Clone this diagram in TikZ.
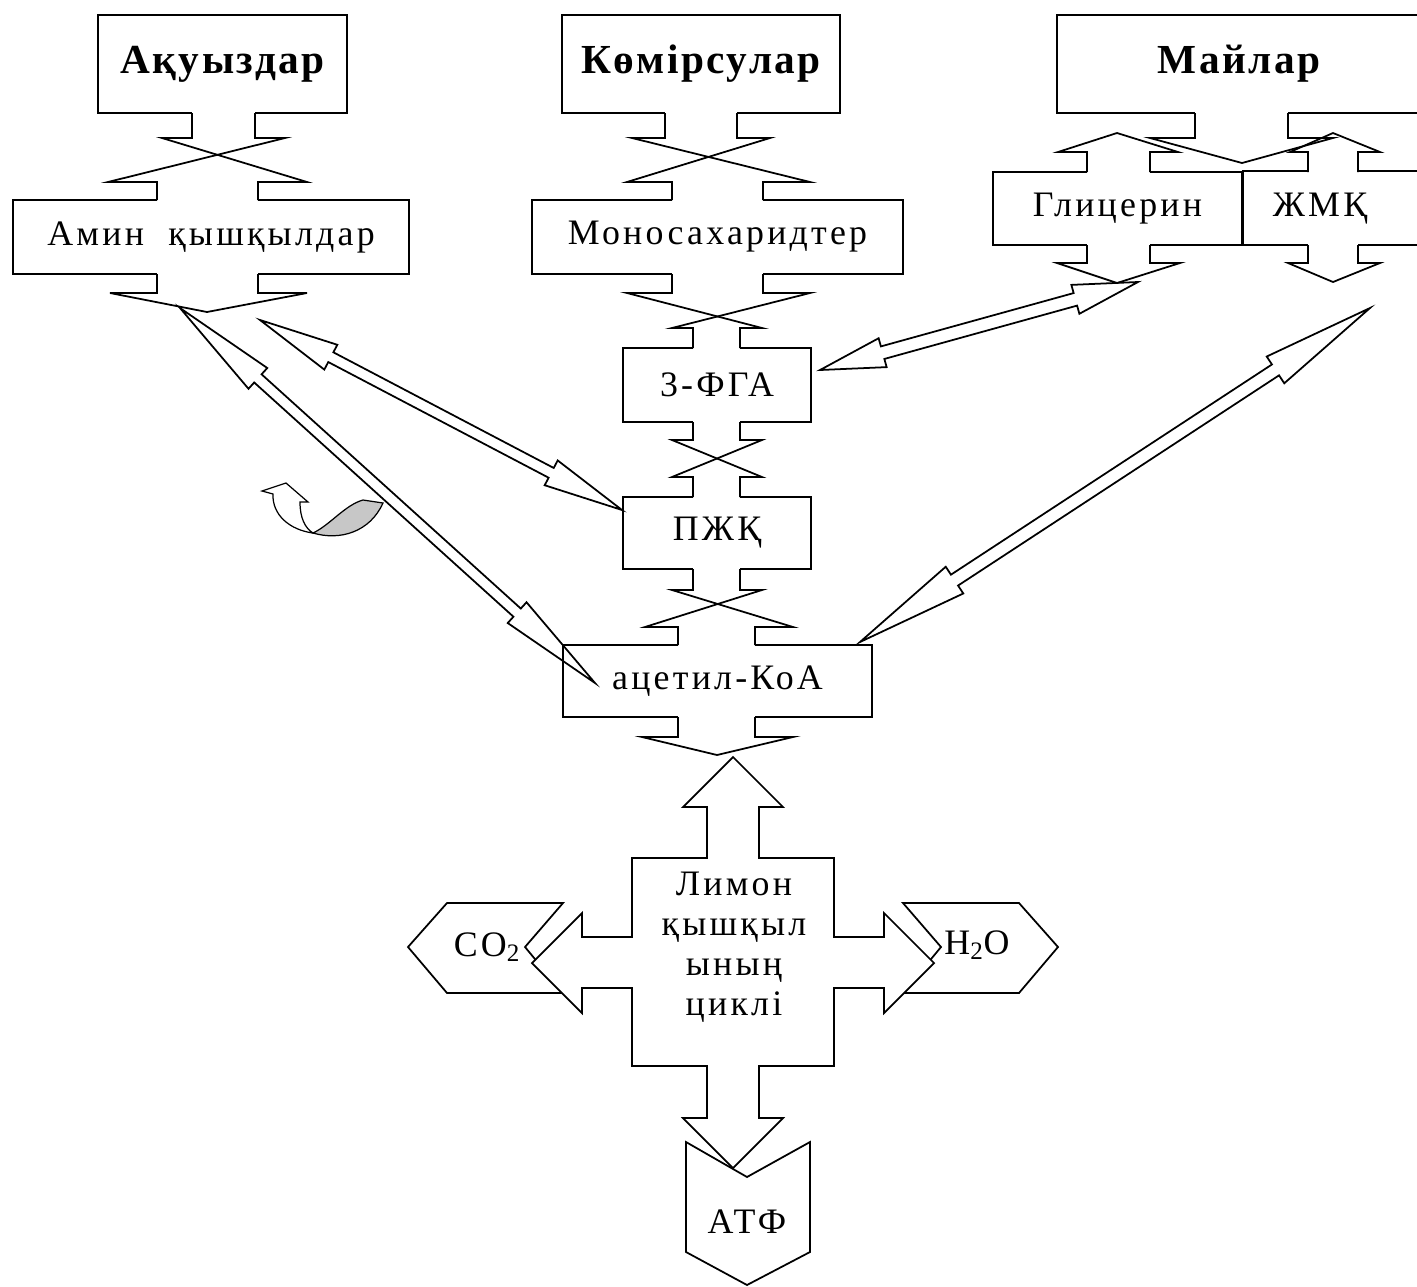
\documentclass[tikz,border=0pt]{standalone}
\usepackage{fontspec}
\setmainfont{Liberation Serif}
\newfontfamily\boxfont[LetterSpace=9]{Liberation Serif}
\newfontfamily\headfont[LetterSpace=6]{Liberation Serif}
\usetikzlibrary{calc}
\tikzset{
	ln/.style={black, line width=1pt},
	blk/.style={draw=black, line width=1pt, fill=white},
	box/.style={draw=black, line width=1pt, fill=white, rectangle, inner sep=0pt},
	boxsize/.style 2 args={minimum width=#1*0.02cm, minimum height=#2*0.02cm},
	headtext/.style={font=\headfont\bfseries\fontsize{23.5}{27}\selectfont},
	boxtext/.style={font=\boxfont\fontsize{20.4}{22.7}\selectfont},
	turn/.style={draw=black, line width=0.7pt},
}
% block arrow with a head at both ends: tips, head length, head half width, shaft half width
\newcommand{\dblarrow}[5]{%
	\draw[ln] (#1)
	-- ($(#1)!#3!(#2) + (#1)!#4!90:(#2) - (#1)$)
	-- ($(#1)!#3!(#2) + (#1)!#5!90:(#2) - (#1)$)
	-- ($(#2)!#3!(#1) + (#1)!#5!90:(#2) - (#1)$)
	-- ($(#2)!#3!(#1) + (#1)!#4!90:(#2) - (#1)$)
	-- (#2)
	-- ($(#2)!#3!(#1) + (#1)!#4!-90:(#2) - (#1)$)
	-- ($(#2)!#3!(#1) + (#1)!#5!-90:(#2) - (#1)$)
	-- ($(#1)!#3!(#2) + (#1)!#5!-90:(#2) - (#1)$)
	-- ($(#1)!#3!(#2) + (#1)!#4!-90:(#2) - (#1)$)
	-- cycle;}

\begin{document}
\begin{tikzpicture}[x=0.02cm, y=-0.02cm]
	\clip (0,0) rectangle (1417,1286);
	\fill[white] (0,0) rectangle (1417,1286);
	
	% top row
	\node[box, boxsize={249}{98}, headtext] (prot) at (222.5,64) {Ақуыздар};
	\node[box, boxsize={278}{98}, headtext] (carb) at (701,64) {Көмірсулар};
	\draw[ln] (1057,15) rectangle (1440,113);
	\node[headtext] (fat) at (1239,64) {Майлар};
	
	% second row
	\node[box, boxsize={396}{74}, boxtext] (amino) at (211,237) {Амин\ \ қышқылдар};
	\node[box, boxsize={371}{74}, boxtext] (mono) at (717.5,237) {Моносахаридтер};
	\node[box, boxsize={249}{73}, boxtext] (glyc) at (1117.5,208.5) {Глицерин};
	\draw[ln] (glyc.north east) rectangle (1440,245);
	\node[boxtext] (fa) at (1320,208.5) {ЖМҚ};
	
	% chain in the middle
	\node[box, boxsize={188}{74}, boxtext] (pga) at (717,385) {3-ФГА};
	\node[box, boxsize={188}{72}, boxtext] (pyr) at (717,533) {ПЖҚ};
	\node[box, boxsize={309}{72}, boxtext] (acoa) at (717.5,681) {ацетил-КоА\hspace{0.6cm}};
	
	% Ақуыздар -> Амин қышқылдар
	\fill[white] (192,110) rectangle (255,116);
	\fill[white] (157,197) rectangle (258,203);
	\draw[ln] (192,113) -- (192,138) -- (162,138) -- (307,182) -- (258,182) -- (258,200);
	\draw[ln] (255,113) -- (255,138) -- (285,138) -- (108,182) -- (157,182) -- (157,200);
	
	% Көмірсулар -> Моносахаридтер
	\fill[white] (665,110) rectangle (737,116);
	\fill[white] (672,197) rectangle (763,203);
	\draw[ln] (665,113) -- (665,138) -- (632,138) -- (810,182) -- (763,182) -- (763,200);
	\draw[ln] (737,113) -- (737,138) -- (770,138) -- (627,182) -- (672,182) -- (672,200);
	
	% Моносахаридтер -> 3-ФГА
	\fill[white] (672,271) rectangle (763,277);
	\fill[white] (693,345) rectangle (740,351);
	\draw[ln] (672,274) -- (672,293) -- (627,293) -- (762,328) -- (740,328) -- (740,348);
	\draw[ln] (763,274) -- (763,293) -- (810,293) -- (672,328) -- (693,328) -- (693,348);
	
	% 3-ФГА -> ПЖҚ
	\fill[white] (693,419) rectangle (740,425);
	\fill[white] (693,494) rectangle (740,500);
	\draw[ln] (693,422) -- (693,440) -- (672,440) -- (762,477) -- (740,477) -- (740,497);
	\draw[ln] (740,422) -- (740,440) -- (762,440) -- (672,477) -- (693,477) -- (693,497);
	
	% ПЖҚ -> ацетил-КоА
	\fill[white] (693,566) rectangle (740,572);
	\fill[white] (678,642) rectangle (755,648);
	\draw[ln] (693,569) -- (693,590) -- (672,590) -- (793,627) -- (755,627) -- (755,645);
	\draw[ln] (740,569) -- (740,590) -- (762,590) -- (645,627) -- (678,627) -- (678,645);
	
	% Майлар -> Глицерин, ЖМҚ
	\fill[white] (1195,110) rectangle (1288,116);
	\fill[white] (1087,169) rectangle (1150,175);
	\fill[white] (1308,169) rectangle (1358,175);
	\draw[ln] (1195,113) -- (1195,138) -- (1150,138) -- (1242,163) -- (1333,138) -- (1288,138) -- (1288,113);
	\draw[ln] (1087,172) -- (1087,152) -- (1058,152) -- (1117,133) -- (1178,152) -- (1150,152) -- (1150,172);
	\draw[ln] (1308,172) -- (1308,152) -- (1290,152) -- (1333,133) -- (1380,152) -- (1358,152) -- (1358,172);
	
	% open heads below
	\fill[white] (157,271) rectangle (258,277);
	\fill[white] (1087,242) rectangle (1150,248);
	\fill[white] (1308,242) rectangle (1358,248);
	\fill[white] (678,714) rectangle (755,720);
	\draw[ln] (157,274) -- (157,293) -- (110,293) -- (207,312) -- (307,293) -- (258,293) -- (258,274);
	\draw[ln] (1087,245) -- (1087,263) -- (1057,263) -- (1117,283) -- (1180,263) -- (1150,263) -- (1150,245);
	\draw[ln] (1308,245) -- (1308,263) -- (1288,263) -- (1333,282) -- (1380,263) -- (1358,263) -- (1358,245);
	\draw[ln] (678,717) -- (678,737) -- (642,737) -- (717,755) -- (793,737) -- (755,737) -- (755,717);
	
	% long double arrows
	\coordinate (a1s) at (180,308);
	\coordinate (a1e) at (595,683);
	\coordinate (a2s) at (260,320);
	\coordinate (a2e) at (622,510);
	\coordinate (a3s) at (820,370);
	\coordinate (a3e) at (1138,282);
	\coordinate (a4s) at (860,642);
	\coordinate (a4e) at (1370,308);
	\dblarrow{a1s}{a1e}{2.1cm}{0.28cm}{0.11cm}
	\dblarrow{a2s}{a2e}{1.6cm}{0.28cm}{0.11cm}
	\dblarrow{a3s}{a3e}{1.3cm}{0.3cm}{0.13cm}
	\dblarrow{a4s}{a4e}{2.26cm}{0.32cm}{0.13cm}
	
	% curved arrow
	\filldraw[turn, fill=black!22] (383,503) -- (363,500) .. controls (345,505) and (330,525) .. (313,533)
	.. controls (340,541) and (370,532) .. (383,503) -- cycle;
	\filldraw[turn, fill=white] (313,533) .. controls (290,530) and (272,515) .. (273,494) -- (262,491)
	-- (286,483) -- (308,502) -- (300,502) .. controls (300,518) and (305,528) .. (313,533) -- cycle;
	
	% products
	\filldraw[blk] (408,947) -- (447,903) -- (563,903) -- (525,947) -- (563,993) -- (447,993) -- cycle;
	\filldraw[blk] (1058,947) -- (1019,903) -- (903,903) -- (941,947) -- (903,993) -- (1019,993) -- cycle;
	\filldraw[blk] (686,1142) -- (747,1177) -- (810,1142) -- (810,1252) -- (747,1285) -- (686,1252) -- cycle;
	\node[boxtext] (co) at (487,947) {CO\textsubscript{2}};
	\node[boxtext] (water) at (977,945) {H\textsubscript{2}O};
	\node[boxtext] (atp) at (747,1222) {АТФ};
	
	% citric acid cycle cross
	\filldraw[blk] (733,757) -- (783,807) -- (759,807) -- (759,858) -- (834,858) -- (834,937) -- (884,937)
	-- (884,913) -- (934,963) -- (884,1013) -- (884,988) -- (834,988) -- (834,1066) -- (759,1066)
	-- (759,1118) -- (783,1118) -- (733,1168) -- (683,1118) -- (707,1118) -- (707,1066) -- (632,1066)
	-- (632,988) -- (582,988) -- (582,1013) -- (532,963) -- (582,913) -- (582,937) -- (632,937)
	-- (632,858) -- (707,858) -- (707,807) -- (683,807) -- cycle;
	\node[boxtext, align=center] (krebs) at (734,947) {Лимон\\қышқыл\\ының\\циклі};
\end{tikzpicture}
\end{document}
